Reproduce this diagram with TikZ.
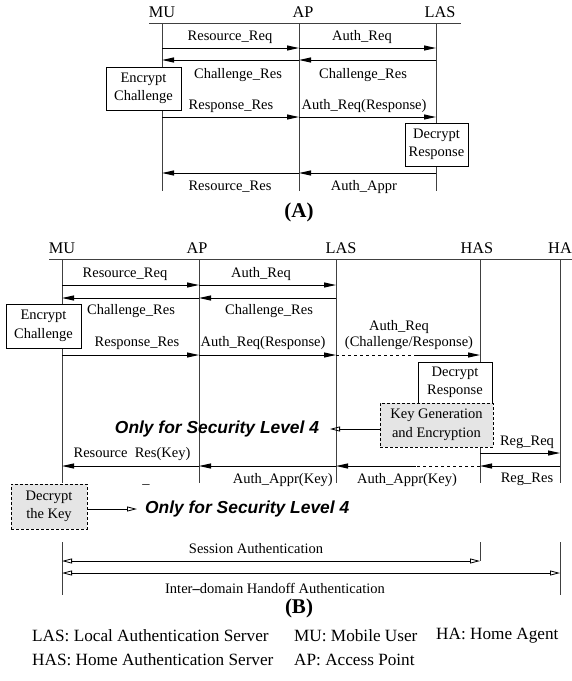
\documentclass[tikz,border=0pt]{standalone}
\usepackage{fontspec}
\setmainfont{Liberation Serif}
\newfontfamily\notefont{Liberation Sans}
\usetikzlibrary{arrows.meta}

\begin{document}
\begin{tikzpicture}[x=1pt,y=-1pt,
  lbl/.style={font=\fontsize{14.5}{16}\selectfont, inner sep=0pt},
  head/.style={font=\fontsize{16.3}{18}\selectfont, inner sep=0pt},
  legend/.style={font=\fontsize{17.2}{19}\selectfont, inner sep=0pt, anchor=west},
  panel/.style={font=\bfseries\fontsize{21}{24}\selectfont, inner sep=0pt},
  life/.style={line width=0.9pt, draw=black!75},
  msg/.style={line width=1pt, -{Triangle[length=12pt,width=5pt]}},
  procbox/.style={draw, line width=0.8pt, fill=white, align=center,
    font=\fontsize{14.5}{18.5}\selectfont, inner sep=0pt},
  keybox/.style={procbox, dash pattern=on 3pt off 2pt, fill=black!10},
  note/.style={font=\notefont\bfseries\itshape\fontsize{17.4}{20}\selectfont, inner sep=0pt},
  hollow/.style={line width=0.8pt, -{Triangle[open,length=10pt,width=5pt]}},
  span/.style={line width=0.8pt, {Triangle[open,length=10pt,width=5pt]}-{Triangle[open,length=10pt,width=5pt]}},
]
\useasboundingbox (0,0) rectangle (572,681);

% ---------------- (A) MU / AP / LAS ----------------
\node[head] (hMUa)  at (162,12) {MU};
\node[head] (hAPa)  at (303,12) {AP};
\node[head] (hLASa) at (440,12) {LAS};

\coordinate (topAl) at (149,23);
\coordinate (topAr) at (461,23);
\coordinate (muA)  at (162,23);
\coordinate (apA)  at (299,23);
\coordinate (lasA) at (436,23);
\coordinate (endA) at (0,191);
\draw[life] (topAl) -- (topAr);
\foreach \l in {muA,apA,lasA} \draw[life] (\l) -- (\l |- endA);

\coordinate (a1) at (0,48);
\coordinate (a2) at (0,60);
\coordinate (a3) at (0,117);
\coordinate (a4) at (0,173);

\draw[msg] (muA |- a1) -- (apA |- a1);
\draw[msg] (apA |- a1) -- (lasA |- a1);
\draw[msg] (lasA |- a2) -- (apA |- a2);
\draw[msg] (apA |- a2) -- (muA |- a2);
\draw[msg] (muA |- a3) -- (apA |- a3);
\draw[msg] (apA |- a3) -- (lasA |- a3);
\draw[msg] (lasA |- a4) -- (apA |- a4);
\draw[msg] (apA |- a4) -- (muA |- a4);

\node[lbl] (lA1) at (230,37) {Resource\_Req};
\node[lbl] (lA2) at (362,37) {Auth\_Req};
\node[lbl] (lA3) at (238,75) {Challenge\_Res};
\node[lbl] (lA4) at (363,75) {Challenge\_Res};
\node[lbl] (lA5) at (231,106) {Response\_Res};
\node[lbl] (lA6) at (364,106) {Auth\_Req(Response)};
\node[lbl] (lA7) at (230,187) {Resource\_Res};
\node[lbl] (lA8) at (364,187) {Auth\_Appr};

\node[procbox, minimum width=75pt, minimum height=43pt] (encA) at (143.5,88.5) {Encrypt\\Challenge};
\node[procbox, minimum width=63pt, minimum height=43pt] (decA) at (436.5,144.5) {Decrypt\\Response};

\node[panel] (capA) at (299,212) {(A)};

% ---------------- (B) MU / AP / LAS / HAS / HA ----------------
\node[head] (hMUb)  at (62,248)  {MU};
\node[head] (hAPb)  at (197,248) {AP};
\node[head] (hLASb) at (341,248) {LAS};
\node[head] (hHASb) at (477,248) {HAS};
\node[head] (hHAb)  at (560,248) {HA};

\coordinate (topBl) at (49,259);
\coordinate (topBr) at (572,259);
\coordinate (muB)  at (62,259);
\coordinate (apB)  at (199,259);
\coordinate (lasB) at (336,259);
\coordinate (hasB) at (480,259);
\coordinate (haB)  at (560,259);
\coordinate (endB) at (0,483);
\draw[life] (topBl) -- (topBr);
\foreach \l in {muB,apB,lasB,hasB,haB} \draw[life] (\l) -- (\l |- endB);

\coordinate (b1) at (0,285);
\coordinate (b2) at (0,298);
\coordinate (b3) at (0,355);
\coordinate (b4) at (0,453);
\coordinate (b5) at (0,466);
\coordinate (split) at (416,0);

\draw[msg] (muB |- b1) -- (apB |- b1);
\draw[msg] (apB |- b1) -- (lasB |- b1);
\draw[msg] (lasB |- b2) -- (apB |- b2);
\draw[msg] (apB |- b2) -- (muB |- b2);
\draw[msg] (muB |- b3) -- (apB |- b3);
\draw[msg] (apB |- b3) -- (lasB |- b3);
\draw[line width=1pt, dashed] (lasB |- b3) -- (split |- b3);
\draw[msg] (split |- b3) -- (hasB |- b3);

\node[lbl] (lB1) at (125,274) {Resource\_Req};
\node[lbl] (lB2) at (261,274) {Auth\_Req};
\node[lbl] (lB3) at (131,311) {Challenge\_Res};
\node[lbl] (lB4) at (269,311) {Challenge\_Res};
\node[lbl] (lB5) at (137,343) {Response\_Res};
\node[lbl] (lB6) at (263,343) {Auth\_Req(Response)};
\node[lbl] (lB7) at (399,327) {Auth\_Req};
\node[lbl] (lB8) at (409,343) {(Challenge/Response)};

\node[procbox, minimum width=75pt, minimum height=44pt] (encB) at (43.5,326) {Encrypt\\Challenge};
\node[procbox, minimum width=74pt, minimum height=41pt] (decB) at (455,382.5) {Decrypt\\Response};
\node[keybox, minimum width=113pt, minimum height=44pt] (keyB) at (436.5,425) {Key Generation\\and Encryption};

% note for security level 4 at the server side
\coordinate (n1) at (0,429);
\coordinate (n1tip) at (330,429);
\node[note] (noteB1) at (217,429) {Only for Security Level 4};
\draw[hollow] (keyB.west |- n1) -- (n1tip);

% registration with the home agent
\draw[msg] (hasB |- b4) -- (haB |- b4);
\draw[msg] (haB |- b5) -- (hasB |- b5);
\node[lbl] (lB9)  at (527,442) {Reg\_Req};
\node[lbl] (lB10) at (527,479) {Reg\_Res};

% key delivery back to the mobile user
\draw[line width=1pt, dashed] (hasB |- b5) -- (split |- b5);
\draw[msg] (split |- b5) -- (lasB |- b5);
\draw[msg] (lasB |- b5) -- (apB |- b5);
\draw[msg] (apB |- b5) -- (muB |- b5);
\node[lbl] (lB11) at (132,454) {Resource\ \ Res(Key)};
\node[lbl, anchor=east] (lB12) at (333,480) {Auth\_Appr(Key)};
\node[lbl] (lB13) at (407,480) {Auth\_Appr(Key)};
\node[lbl] (lB14) at (146,484) {\_};

% note for security level 4 at the mobile user
\node[keybox, minimum width=76pt, minimum height=45pt] (keyMU) at (49,506.5) {Decrypt\\the Key};
\coordinate (n2tip) at (137,509);
\draw[hollow] (keyMU.east |- n2tip) -- (n2tip);
\node[note, anchor=west] (noteB2) at (145,509) {Only for Security Level 4};

% authentication spans
\coordinate (s0) at (0,542);
\coordinate (s1) at (0,561);
\coordinate (s2) at (0,573);
\coordinate (s3) at (0,595);
\draw[life] (muB |- s0) -- (muB |- s3);
\draw[life] (hasB |- s0) -- (hasB |- s1);
\draw[life] (haB |- s0) -- (haB |- s3);
\draw[span] (muB |- s1) -- (hasB |- s1);
\draw[span] (muB |- s2) -- (haB |- s2);
\node[lbl] (lS1) at (256,549) {Session Authentication};
\node[lbl] (lS2) at (275,588) {Inter\textbf{\textendash}domain Handoff Authentication};

\node[panel] (capB) at (299,608) {(B)};

% legend
\node[legend] (g1) at (32,636)  {LAS: Local Authentication Server};
\node[legend] (g2) at (294,636) {MU: Mobile User};
\node[legend] (g3) at (436,636) {HA: Home Agent};
\node[legend] (g4) at (32,660)  {HAS: Home Authentication Server};
\node[legend] (g5) at (294,660) {AP: Access Point};
\end{tikzpicture}
\end{document}
